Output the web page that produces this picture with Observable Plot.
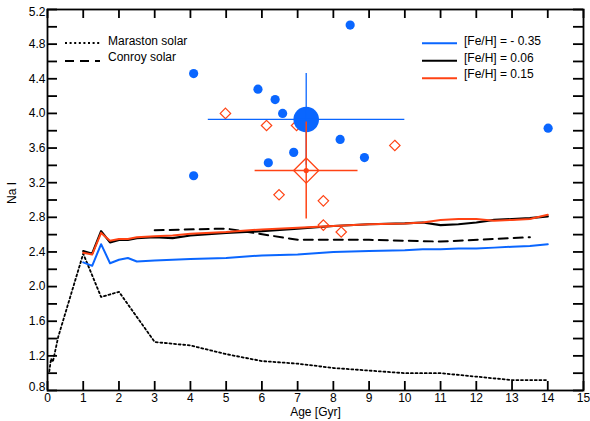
<!DOCTYPE html>
<html>
<head>
<meta charset="utf-8">
<script src="https://cdn.jsdelivr.net/npm/d3@7"></script>
<script src="https://cdn.jsdelivr.net/npm/@observablehq/plot@0.6"></script>
<style>
  html, body { margin: 0; padding: 0; background: white; }
  #chart svg { display: block; }
</style>
</head>
<body>
<div id="chart"></div>
<script>
// ---- data ----
const modelAges = [1, 1.25, 1.5, 1.75, 2, 2.25, 2.5, 3, 3.5, 4, 5, 6, 7, 8, 9, 10, 10.5, 11, 11.5, 12, 12.5, 13, 13.5, 14];
const naFeHm035 = [2.28, 2.24, 2.49, 2.27, 2.31, 2.33, 2.29, 2.30, 2.31, 2.32, 2.33, 2.36, 2.37, 2.40, 2.41, 2.42, 2.43, 2.43, 2.44, 2.44, 2.45, 2.46, 2.47, 2.49];
const naFeH006 = [2.41, 2.38, 2.64, 2.51, 2.54, 2.54, 2.56, 2.57, 2.56, 2.59, 2.62, 2.64, 2.67, 2.70, 2.72, 2.73, 2.74, 2.71, 2.72, 2.74, 2.77, 2.78, 2.79, 2.81];
const naFeH015 = [2.39, 2.37, 2.62, 2.53, 2.55, 2.55, 2.57, 2.58, 2.59, 2.61, 2.63, 2.66, 2.68, 2.70, 2.72, 2.73, 2.74, 2.77, 2.78, 2.78, 2.76, 2.77, 2.78, 2.83];

const marastonAges = [0.05, 0.1, 0.15, 0.3, 1, 1.5, 2, 3, 4, 5, 6, 7, 8, 9, 10, 11, 12, 13, 14];
const marastonNa = [1.02, 1.17, 1.13, 1.42, 2.38, 1.88, 1.94, 1.36, 1.32, 1.22, 1.14, 1.11, 1.06, 1.03, 1.00, 1.00, 0.96, 0.92, 0.92];

const conroyAges = [3, 5, 7, 9, 11, 13.5];
const conroyNa = [2.65, 2.67, 2.54, 2.54, 2.52, 2.57];

const blueAge = [4.09, 4.09, 5.89, 6.37, 6.58, 6.18, 6.89, 8.19, 8.87, 8.47, 14.01];
const blueNa = [4.46, 3.28, 4.28, 4.16, 4.00, 3.43, 3.55, 3.70, 3.49, 5.02, 3.83];

const redAge = [4.98, 6.13, 6.97, 9.72, 6.48, 7.72, 7.72, 8.22];
const redNa = [4.00, 3.86, 3.86, 3.63, 3.06, 2.99, 2.71, 2.63];

const blueMean = [{age: 7.24, na: 3.93, ageLo: 4.5, ageHi: 10.0, naLo: 3.40, naHi: 4.46}];
const redMean = [{age: 7.24, na: 3.34, ageLo: 5.81, ageHi: 8.69, naLo: 2.78, naHi: 3.90}];

const xTickValues = d3.range(0, 16);
const yLabelValues = [0.8, 1.2, 1.6, 2.0, 2.4, 2.8, 3.2, 3.6, 4.0, 4.4, 4.8, 5.2];
const yTickValues = d3.range(8, 53, 2).map(d => d / 10);

const metalLegend = ["[Fe/H] = - 0.35", "[Fe/H] = 0.06", "[Fe/H] = 0.15"];
const modelLegend = ["Maraston solar", "Conroy solar"];

// ---- style ----
const BLUE = "#0a66ff";
const RED = "#ff4314";
const W = 590, H = 421;
const ML = 47, MR = 7, MT = 9, MB = 31;
const FW = W - ML - MR, FH = H - MT - MB;
const TKY = 10, TKX = 9, AXW = 1.8;
const FONT = "'Liberation Sans', Arial, Helvetica, sans-serif";

const series = (ages, vals) => ages.map((a, i) => ({age: a, na: vals[i]}));
const yMin = yLabelValues[0], yMax = yLabelValues[yLabelValues.length - 1];

const chart = Plot.plot({
  width: W, height: H,
  marginLeft: ML, marginRight: MR, marginTop: MT, marginBottom: MB,
  style: {fontFamily: FONT, fontSize: "12px", background: "white", color: "black"},
  x: {domain: [0, 15]},
  y: {domain: [0.8, 5.2]},
  marks: [
    // model lines
    Plot.line(series(marastonAges, marastonNa), {x: "age", y: "na", stroke: "black", strokeWidth: 1.8, strokeDasharray: "2,2.6"}),
    Plot.line(series(conroyAges, conroyNa), {x: "age", y: "na", stroke: "black", strokeWidth: 2, strokeDasharray: "9,6"}),
    Plot.line(series(modelAges, naFeHm035), {x: "age", y: "na", stroke: BLUE, strokeWidth: 2}),
    Plot.line(series(modelAges, naFeH006), {x: "age", y: "na", stroke: "black", strokeWidth: 2.2}),
    Plot.line(series(modelAges, naFeH015), {x: "age", y: "na", stroke: RED, strokeWidth: 2}),
    // points
    Plot.dot(series(blueAge, blueNa), {x: "age", y: "na", r: 4.6, fill: BLUE, stroke: null}),
    Plot.dot(series(redAge, redNa), {x: "age", y: "na", r: 4.7, symbol: "diamond2", stroke: RED, strokeWidth: 1.2, fill: "none"}),
    // blue mean
    Plot.dot(blueMean, {x: "age", y: "na", r: 12.8, fill: BLUE, stroke: null}),
    Plot.ruleY(blueMean, {y: "na", x1: "ageLo", x2: "ageHi", stroke: BLUE, strokeWidth: 1.3}),
    Plot.ruleX(blueMean, {x: "age", y1: "naLo", y2: "naHi", stroke: BLUE, strokeWidth: 1.3}),
    // red mean
    Plot.ruleY(redMean, {y: "na", x1: "ageLo", x2: "ageHi", stroke: RED, strokeWidth: 1.5}),
    Plot.ruleX(redMean, {x: "age", y1: "naLo", y2: "naHi", stroke: RED, strokeWidth: 1.5}),
    Plot.dot(redMean, {x: "age", y: "na", r: 11.3, symbol: "diamond2", stroke: RED, strokeWidth: 1.3, fill: "none"}),
    Plot.dot(redMean, {x: "age", y: "na", r: 2.6, fill: RED, stroke: null}),
    // frame & ticks (inward, mirrored)
    Plot.frame({stroke: "black", strokeWidth: AXW}),
    Plot.tickY(yTickValues, {y: d => d, insetRight: FW - TKY, stroke: "black", strokeWidth: AXW}),
    Plot.tickY(yTickValues, {y: d => d, insetLeft: FW - TKY, stroke: "black", strokeWidth: AXW}),
    Plot.tickX(xTickValues, {x: d => d, insetTop: FH - TKX, stroke: "black", strokeWidth: AXW}),
    Plot.tickX(xTickValues, {x: d => d, insetBottom: FH - TKX, stroke: "black", strokeWidth: AXW}),
    // tick labels
    Plot.axisX(xTickValues, {tickSize: 0, tickPadding: 3, label: null, tickFormat: d3.format("d")}),
    Plot.axisY(yLabelValues.filter(v => v !== yMin && v !== yMax), {tickSize: 0, tickPadding: 2, label: null, tickFormat: d3.format(".1f")}),
    Plot.axisY([yMax], {tickSize: 0, tickPadding: 2, label: null, tickFormat: d3.format(".1f"), dy: 3}),
    Plot.axisY([yMin], {tickSize: 0, tickPadding: 2, label: null, tickFormat: d3.format(".1f"), dy: -3}),
    // axis titles
    Plot.text(["Age [Gyr]"], {frameAnchor: "bottom", text: d => d, dy: 25, fill: "black"}),
    Plot.text(["Na I"], {frameAnchor: "left", text: d => d, rotate: -90, dx: -35, dy: 4, fill: "black"})
  ]
});

document.getElementById("chart").appendChild(chart);

// ---- legends ----
const svg = d3.select(chart);
const lg = svg.append("g")
  .attr("font-family", FONT).attr("font-size", 12).attr("text-anchor", "start");

const leftStyles = [
  {dash: "2,2.6", w: 1.8, y: 43},
  {dash: "9,6", w: 2, y: 61}
];
modelLegend.forEach((t, i) => {
  const s = leftStyles[i];
  lg.append("line").attr("x1", 65).attr("x2", 100).attr("y1", s.y).attr("y2", s.y)
    .attr("stroke", "black").attr("stroke-width", s.w).attr("stroke-dasharray", s.dash);
  lg.append("text").attr("x", 108).attr("y", [45, 61][i]).attr("fill", "black")
    .attr("text-anchor", "start").text(t);
});

const metalColors = [BLUE, "black", RED];
metalLegend.forEach((t, i) => {
  const ly = [43.3, 60.7, 78.3][i];
  lg.append("line").attr("x1", 422).attr("x2", 457).attr("y1", ly).attr("y2", ly)
    .attr("stroke", metalColors[i]).attr("stroke-width", 2);
  lg.append("text").attr("x", 464).attr("y", [45, 61.7, 78.3][i]).attr("fill", "black")
    .attr("text-anchor", "start").text(t);
});
</script>
</body>
</html>
